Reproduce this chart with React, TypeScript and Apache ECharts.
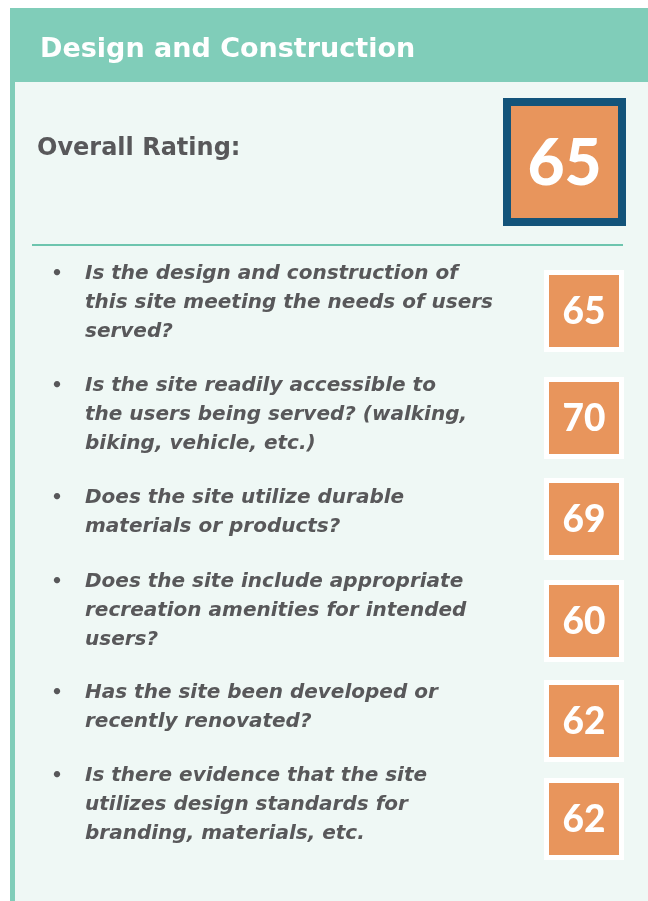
import React, { useEffect, useRef } from "react";
import * as echarts from "echarts";

const title = "Design and Construction";
const overallLabel = "Overall Rating:";
const overallScore = 65;
const questions: string[][] = [
  ["Is the design and construction of", "this site meeting the needs of users", "served?"],
  ["Is the site readily accessible to", "the users being served? (walking,", "biking, vehicle, etc.)"],
  ["Does the site utilize durable", "materials or products?"],
  ["Does the site include appropriate", "recreation amenities for intended", "users?"],
  ["Has the site been developed or", "recently renovated?"],
  ["Is there evidence that the site", "utilizes design standards for", "branding, materials, etc."],
];
const scores = [65, 70, 69, 60, 62, 62];
// layout
const itemTops = [272, 384, 496, 580, 691, 774];
const boxTops = [270, 377, 478, 580, 680, 778];

const TEAL = "#80CDB9";
const BODY = "#EFF8F5";
const NAVY = "#13547A";
const ORANGE = "#E8955C";
const GRAY = "#58585A";
const FONT = "'DejaVu Sans', sans-serif";
const NUMFONT = "Lato, sans-serif";

export default function App() {
  const ref = useRef<HTMLDivElement>(null);
  useEffect(() => {
    const chart = echarts.init(ref.current!, null, { renderer: "svg" });
    const els: any[] = [
      { type: "rect", shape: { x: 0, y: 0, width: 648, height: 901 }, style: { fill: "#ffffff" } },
      { type: "rect", shape: { x: 10, y: 8, width: 638, height: 74 }, style: { fill: TEAL } },
      { type: "rect", shape: { x: 10, y: 82, width: 638, height: 819 }, style: { fill: BODY } },
      { type: "rect", shape: { x: 10, y: 82, width: 5, height: 819 }, style: { fill: TEAL } },
      {
        type: "text", x: 40, y: 47,
        style: { text: title, fill: "#ffffff", font: `bold 27px ${FONT}`, verticalAlign: "middle" },
      },
      {
        type: "text", x: 37, y: 147,
        style: { text: overallLabel, fill: GRAY, font: `bold 24px ${FONT}`, verticalAlign: "middle" },
      },
      { type: "rect", shape: { x: 503, y: 98, width: 123, height: 128 }, style: { fill: NAVY } },
      { type: "rect", shape: { x: 511, y: 106, width: 107, height: 112 }, style: { fill: ORANGE } },
      {
        type: "text", x: 564.5, y: 160,
        style: { text: String(overallScore), fill: "#ffffff", font: `900 64px ${NUMFONT}`, align: "center", verticalAlign: "middle" },
      },
      { type: "line", shape: { x1: 32, y1: 245, x2: 623, y2: 245 }, style: { stroke: "#6DC5AE", lineWidth: 2 } },
    ];
    questions.forEach((lines, i) => {
      const top = itemTops[i];
      els.push({
        type: "text", x: 57, y: top, style: { text: "•", fill: GRAY, font: `bold 18px ${FONT}`, align: "center", verticalAlign: "middle" },
      });
      lines.forEach((ln, j) => {
        els.push({
          type: "text", x: 85, y: top + j * 29,
          style: { text: ln, fill: GRAY, font: `italic bold 20px ${FONT}`, verticalAlign: "middle" },
        });
      });
      const by = boxTops[i];
      els.push({ type: "rect", shape: { x: 544, y: by, width: 80, height: 82 }, style: { fill: "#ffffff" } });
      els.push({ type: "rect", shape: { x: 549, y: by + 5, width: 70, height: 72 }, style: { fill: ORANGE } });
      els.push({
        type: "text", x: 584, y: by + 39,
        style: { text: String(scores[i]), fill: "#ffffff", font: `900 37px ${NUMFONT}`, align: "center", verticalAlign: "middle" },
      });
    });
    chart.setOption({ animation: false, graphic: { elements: els } });
    return () => chart.dispose();
  }, []);
  return <div ref={ref} style={{ position: "fixed", left: 0, top: 0, width: 648, height: 901 }} />;
}
